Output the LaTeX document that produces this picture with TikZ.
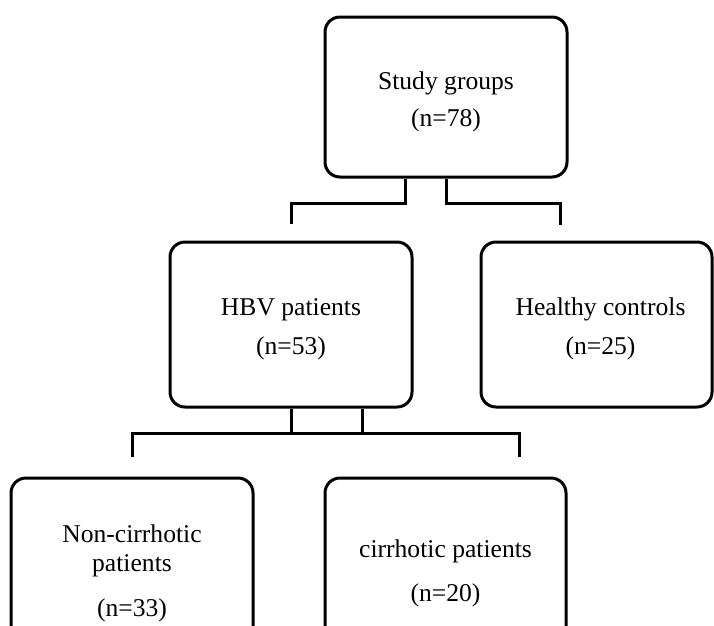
\documentclass[tikz,border=0pt]{standalone}
\usepackage{fontspec}
\setmainfont{Liberation Serif}
\usepackage{tikz}

% taller first line, pushes the text a little down
\newcommand{\lowstrut}{\rule{0pt}{27pt}}

\begin{document}
\begin{tikzpicture}[x=1pt,y=-1pt,
		groupbox/.style={draw, line width=3pt, rounded corners=15pt, align=center, inner sep=0pt,
			font=\fontsize{25.6}{37}\selectfont},
		link/.style={line width=3pt}]
			
			\clip (0,0) rectangle (714,625);
			
			% Study groups box
			\node[groupbox, minimum width=242, minimum height=160] (sg) at (446,97) {\lowstrut Study groups\\(n=78)};
			
			% second level boxes
			\node[groupbox, minimum width=242, minimum height=165] (hbv) at (291,324.5) {\lowstrut HBV patients\\[2pt](n=53)};
			\node[groupbox, minimum width=231, minimum height=165] (hc) at (596.5,324.5) {\lowstrut\hspace*{8pt}Healthy controls\\[2pt]\hspace*{8pt}(n=25)};
			
			% third level boxes
			\node[groupbox, minimum width=242, minimum height=190] (nc) at (132,573) {Non-cirrhotic\\[-8pt]patients\\[8pt](n=33)};
			\node[groupbox, minimum width=241, minimum height=190] (cp) at (445.5,573) {cirrhotic patients\\[7pt](n=20)};
			
			% stub ends
			\coordinate (hbvin) at ([yshift=17pt]hbv.north);
			\coordinate (hcin) at (560,225);
			\coordinate (ncin) at (132,457);
			\coordinate (cpin) at (519,457);
			
			% Connecting lines
			\draw[link] ([xshift=-41pt]sg.south) -- ++(0,25) -| (hbvin);
			\draw[link] (sg.south) -- ++(0,25) -| (hcin);
			\draw[link] ([xshift=71pt]hbv.south) -- ++(0,25) -| (ncin);
			\draw[link] (hbv.south) -- ++(0,25) -| (cpin);
			
		\end{tikzpicture}
\end{document}
